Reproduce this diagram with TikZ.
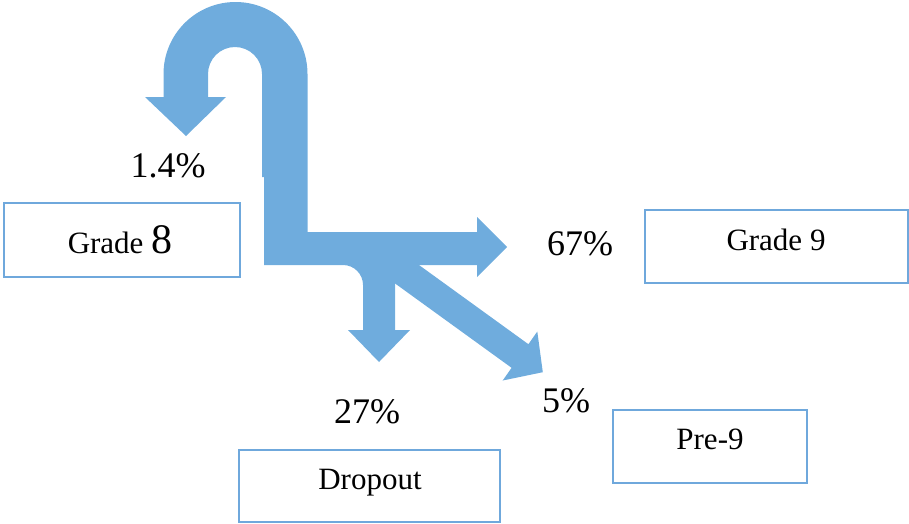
\documentclass[tikz,border=0pt]{standalone}
\usepackage{fontspec}
\setmainfont{Liberation Serif}
\definecolor{flow}{RGB}{111,172,221}
\definecolor{frame}{RGB}{111,168,220}
\tikzset{
  box/.style={draw=frame, line width=2.2pt, fill=white, rectangle, inner sep=0pt},
  pct/.style={font=\fontsize{36}{36}\selectfont, inner sep=0pt, anchor=base},
  lbl/.style={font=\fontsize{31}{31}\selectfont, inner sep=0pt, anchor=base},
  flowshape/.style={fill=flow, draw=none}
}
\begin{document}
\begin{tikzpicture}[x=1pt,y=-1pt]
\useasboundingbox (0,0) rectangle (909,523);
% main flow shape: loop back arrow + branch to grade 9 + dropout
\fill[flowshape] (264,265) -- (343,265) arc[start angle=90,end angle=0,radius=20pt]
  -- (363,330) -- (348,330) -- (379,362) -- (410,330) -- (395,330) -- (395,265)
  -- (477,265) -- (477,277) -- (507,247) -- (477,217) -- (477,232)
  -- (307.5,232) -- (307.5,74) arc[start angle=0,end angle=180,radius=72pt]
  -- (163.5,97) -- (145,97) -- (186,136) -- (226,97) -- (208,97)
  -- (208,74) arc[start angle=180,end angle=0,radius=27pt]
  -- (262,177) -- (264,177)
  -- cycle;
% diagonal arrow to Pre-9
\fill[flowshape] (365,261.7) -- (381.8,238.1) -- (528.4,344.2) -- (537.3,331.5)
  -- (542.8,372.2) -- (502.7,380.5) -- (511.6,367.8) -- cycle;
% boxes
\node[box, minimum width=236pt, minimum height=74pt] (g8) at (122,240) {};
\node[box, minimum width=263pt, minimum height=73pt] (g9) at (776.5,246.5) {};
\node[box, minimum width=261pt, minimum height=72pt] (drop) at (369.5,486) {};
\node[box, minimum width=194pt, minimum height=73pt] (pre) at (710,446.5) {};
% box texts
\node[lbl] (t8) at (120,253) {Grade {\fontsize{42}{42}\selectfont 8}};
\node[lbl] (t9) at (776,250) {Grade 9};
\node[lbl] (tdrop) at (370,489) {Dropout};
\node[lbl] (tpre) at (710,449) {Pre-9};
% percentages
\node[pct] (p14) at (168,177) {1.4\%};
\node[pct] (p67) at (580,255) {67\%};
\node[pct] (p27) at (367,423) {27\%};
\node[pct] (p5) at (566,412) {5\%};
\end{tikzpicture}
\end{document}
